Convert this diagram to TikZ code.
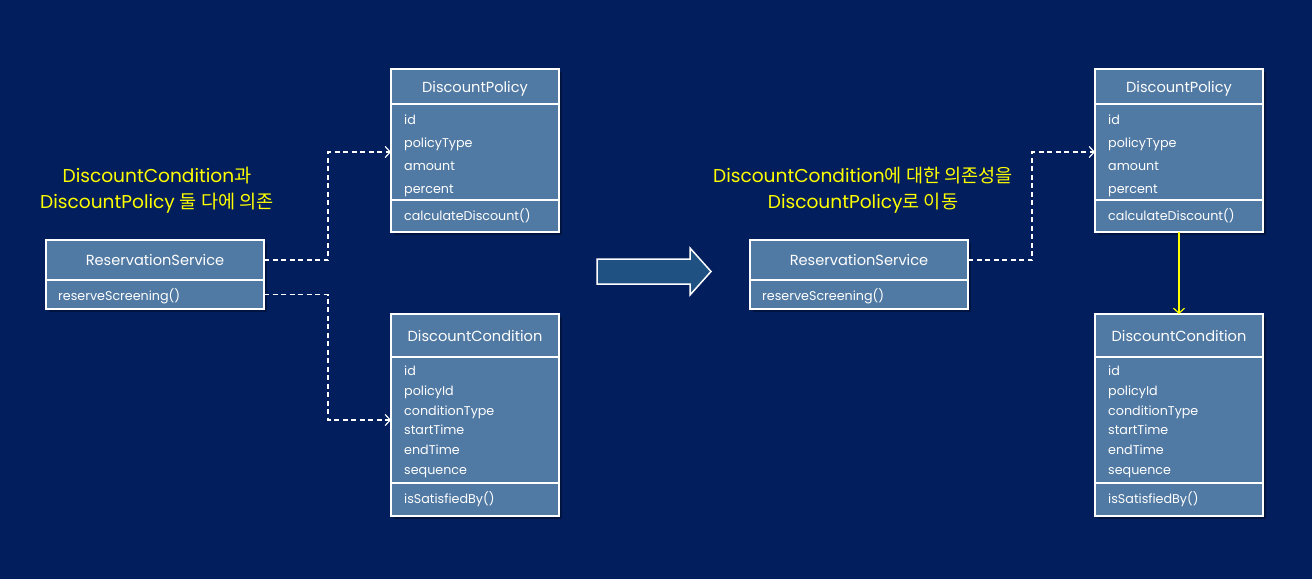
\documentclass[tikz,border=0pt]{standalone}
\usepackage{fontspec}
\setmainfont{Poppins}
\newfontfamily\kr{Noto Sans CJK KR}
\usetikzlibrary{arrows.meta}
\definecolor{bg}{HTML}{021E5C}
\definecolor{boxfill}{HTML}{5079A3}
\definecolor{arrfill}{HTML}{1F5282}
\definecolor{ylw}{HTML}{FFFF00}
\begin{document}
\begin{tikzpicture}[x=1pt,y=-1pt,
 sec/.style={draw=white, line width=1.3pt, fill=boxfill, inner sep=0pt, outer sep=0pt, anchor=north west},
 ttl/.style={text=white, font=\fontsize{14.6}{17}\selectfont, inner sep=0pt, text height=13pt, text depth=1.5pt},
 attr/.style={text=white, font=\fontsize{12.7}{15}\selectfont, anchor=west, inner sep=0pt, text height=11pt, text depth=1pt},
 shd/.style={fill=black, opacity=0.3},
 dep/.style={draw=white, line width=1.2pt, dash pattern=on 5pt off 3.5pt, -{Straight Barb[length=5pt,width=11pt]}},
 note/.style={text=ylw, font=\fontsize{18.6}{26}\selectfont, align=center}
]
\fill[bg] (0,0) rectangle (1312,579);
\useasboundingbox (0,0) rectangle (1312,579);

% ---------- LEFT ----------
% shadows
\fill[shd] (49,243) rectangle (267,312);
\fill[shd] (394,72) rectangle (562,235);
\fill[shd] (394,317) rectangle (562,519);

% ReservationService
\node[sec, minimum width=218pt, minimum height=40pt] (rsH) at (46,240) {};
\node[sec, minimum width=218pt, minimum height=29pt] (rsM) at (46,280) {};
\node[ttl] (rsT) at (rsH.center) {ReservationService};
\node[attr] (rsm1) at (58,295) {reserveScreening()};

% DiscountPolicy
\node[sec, minimum width=168pt, minimum height=35pt] (dpH) at (391,69) {};
\node[sec, minimum width=168pt, minimum height=96pt] (dpA) at (391,104) {};
\node[sec, minimum width=168pt, minimum height=32pt] (dpM) at (391,200) {};
\node[ttl] (dpT) at (dpH.center) {DiscountPolicy};
\node[attr] (dpa1) at (404,119) {id};
\node[attr] (dpa2) at (404,142) {policyType};
\node[attr] (dpa3) at (404,165) {amount};
\node[attr] (dpa4) at (404,188) {percent};
\node[attr] (dpm1) at (404,215) {calculateDiscount()};

% DiscountCondition
\node[sec, minimum width=168pt, minimum height=43pt] (dcH) at (391,314) {};
\node[sec, minimum width=168pt, minimum height=126pt] (dcA) at (391,357) {};
\node[sec, minimum width=168pt, minimum height=33pt] (dcM) at (391,483) {};
\node[ttl] (dcT) at (dcH.center) {DiscountCondition};
\node[attr] (dca1) at (404,370) {id};
\node[attr] (dca2) at (404,390) {policyId};
\node[attr] (dca3) at (404,410) {conditionType};
\node[attr] (dca4) at (404,429) {startTime};
\node[attr] (dca5) at (404,449) {endTime};
\node[attr] (dca6) at (404,469) {sequence};
\node[attr] (dcm1) at (404,498) {isSatisfiedBy()};

\draw[dep] (rsH.east) -- (328,260) |- (dpA.west);
\draw[dep] (rsM.east) -- (328,294.5) |- (dcA.west);

\node[note] (n1) at (157,190) {DiscountCondition{\kr 과}\\DiscountPolicy {\kr 둘 다에 의존}};

% ---------- ARROW ----------
\draw[white, line width=1.5pt, fill=arrfill, line join=miter]
 (597,259) -- (690,259) -- (690,248) -- (711,271.5) -- (690,295) -- (690,284) -- (597,284) -- cycle;

% ---------- RIGHT ----------
\fill[shd] (753,243) rectangle (971,312);
\fill[shd] (1098,72) rectangle (1266,235);
\fill[shd] (1098,317) rectangle (1266,519);

\node[sec, minimum width=218pt, minimum height=40pt] (rs2H) at (750,240) {};
\node[sec, minimum width=218pt, minimum height=29pt] (rs2M) at (750,280) {};
\node[ttl] (rs2T) at (rs2H.center) {ReservationService};
\node[attr] (rs2m1) at (762,295) {reserveScreening()};

\node[sec, minimum width=168pt, minimum height=35pt] (dp2H) at (1095,69) {};
\node[sec, minimum width=168pt, minimum height=96pt] (dp2A) at (1095,104) {};
\node[sec, minimum width=168pt, minimum height=32pt] (dp2M) at (1095,200) {};
\node[ttl] (dp2T) at (dp2H.center) {DiscountPolicy};
\node[attr] (dp2a1) at (1108,119) {id};
\node[attr] (dp2a2) at (1108,142) {policyType};
\node[attr] (dp2a3) at (1108,165) {amount};
\node[attr] (dp2a4) at (1108,188) {percent};
\node[attr] (dp2m1) at (1108,215) {calculateDiscount()};

\node[sec, minimum width=168pt, minimum height=43pt] (dc2H) at (1095,314) {};
\node[sec, minimum width=168pt, minimum height=126pt] (dc2A) at (1095,357) {};
\node[sec, minimum width=168pt, minimum height=33pt] (dc2M) at (1095,483) {};
\node[ttl] (dc2T) at (dc2H.center) {DiscountCondition};
\node[attr] (dc2a1) at (1108,370) {id};
\node[attr] (dc2a2) at (1108,390) {policyId};
\node[attr] (dc2a3) at (1108,410) {conditionType};
\node[attr] (dc2a4) at (1108,429) {startTime};
\node[attr] (dc2a5) at (1108,449) {endTime};
\node[attr] (dc2a6) at (1108,469) {sequence};
\node[attr] (dc2m1) at (1108,498) {isSatisfiedBy()};

\draw[dep] (rs2H.east) -- (1032,260) |- (dp2A.west);
\draw[ylw, line width=1.2pt, -{Straight Barb[length=5pt,width=11pt]}] (dp2M.south) -- (dc2H.north);

\node[note] (n2) at (863,190) {DiscountCondition{\kr 에 대한 의존성을}\\DiscountPolicy{\kr 로 이동}};
\end{tikzpicture}
\end{document}
